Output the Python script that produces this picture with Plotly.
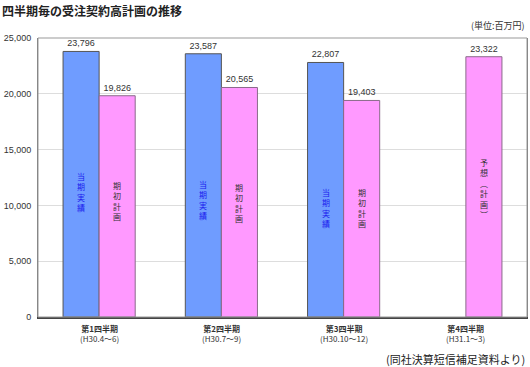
import plotly.graph_objects as go

categories = ["Q1", "Q2", "Q3", "Q4"]
cat_line1 = ["第1四半期", "第2四半期", "第3四半期", "第4四半期"]
cat_line2 = ["(H30.4～6)", "(H30.7～9)", "(H30.10～12)", "(H31.1～3)"]
actual = [23796, 23587, 22807, None]
plan = [19826, 20565, 19403, 23322]
actual_label = "当期実績"
plan_labels = ["期初計画", "期初計画", "期初計画", "予想︵計画︶"]
actual_text_y = [11200, 10500, 9800]
plan_text_y = [10400, 10200, 9800, 11500]
yticks = [0, 5000, 10000, 15000, 20000, 25000]

FONT = "Liberation Sans, Noto Sans CJK JP, sans-serif"
CJK = "Noto Sans CJK JP, sans-serif"

def fmt(v):
    return "" if v is None else f"{v:,}"

fig = go.Figure()
fig.add_trace(go.Bar(
    x=categories, y=actual, width=0.295, offset=-0.295,
    marker=dict(color="#6f9cff", line=dict(color="#555555", width=1)),
    text=[fmt(v) for v in actual], textposition="outside",
    textfont=dict(size=9, color="#333333", family=FONT), cliponaxis=False,
    hoverinfo="skip",
))
fig.add_trace(go.Bar(
    x=categories, y=plan, width=0.295, offset=0,
    marker=dict(color="#ff99ff", line=dict(color="#8a6a8a", width=1)),
    text=[fmt(v) for v in plan], textposition="outside",
    textfont=dict(size=9, color="#333333", family=FONT), cliponaxis=False,
    hoverinfo="skip",
))

def vert(s):
    return "<br>".join(list(s))

for i, v in enumerate(actual):
    if v is not None:
        fig.add_annotation(x=i - 0.1475, y=actual_text_y[i], xref="x", yref="y",
                           text=vert(actual_label), showarrow=False,
                           font=dict(size=8, color="#1a1aee", family=CJK))
for i, v in enumerate(plan):
    fig.add_annotation(x=i + 0.1475, y=plan_text_y[i], xref="x", yref="y",
                       text=vert(plan_labels[i]), showarrow=False,
                       font=dict(size=8, color="#333333", family=CJK))

for i in range(len(categories)):
    fig.add_annotation(x=i, y=0, xref="x", yref="paper",
                       text=f"<b>{cat_line1[i]}</b><br>{cat_line2[i]}",
                       showarrow=False, yanchor="top", yshift=-4,
                       font=dict(size=8, color="#333333", family=CJK))

fig.add_annotation(x=0, y=1, xref="paper", yref="paper", xshift=-38, yshift=38,
                   text="<b>四半期毎の受注契約高計画の推移</b>", showarrow=False,
                   xanchor="left", yanchor="top",
                   font=dict(size=12, color="#222222", family=CJK))
fig.add_annotation(x=1, y=1, xref="paper", yref="paper", yshift=4,
                   text="(単位:百万円)", showarrow=False,
                   xanchor="right", yanchor="bottom",
                   font=dict(size=9, color="#333333", family=CJK))
fig.add_annotation(x=1, y=0, xref="paper", yref="paper", yshift=-42,
                   text="(同社決算短信補足資料より)", showarrow=False,
                   xanchor="right", yanchor="middle",
                   font=dict(size=11, color="#222222", family=CJK))

fig.update_layout(
    width=530, height=367,
    margin=dict(l=38, r=3, t=38, b=50),
    paper_bgcolor="white", plot_bgcolor="white",
    showlegend=False, barmode="overlay",
    font=dict(family=FONT),
)
fig.update_xaxes(showticklabels=False, showline=True, linecolor="#444444", linewidth=1.5,
                 mirror=False, showgrid=False, range=[-0.5, 3.5], ticks="")
fig.update_yaxes(range=[0, 25000], tickvals=yticks,
                 ticktext=[f"{v:,}" for v in yticks],
                 tickfont=dict(size=9, color="#333333", family=FONT),
                 showgrid=True, gridcolor="#dddddd", gridwidth=1,
                 showline=True, linecolor="#777777", linewidth=1, mirror=True,
                 zeroline=False, ticks="", ticklabelstandoff=4)
fig.add_shape(type="rect", xref="paper", yref="paper", x0=0, y0=0, x1=1, y1=1,
              line=dict(color="#999999", width=1), layer="above")

fig.write_html("out.html", config={"displayModeBar": False},
               post_script="document.body.style.margin='0';document.body.style.overflow='hidden';")
